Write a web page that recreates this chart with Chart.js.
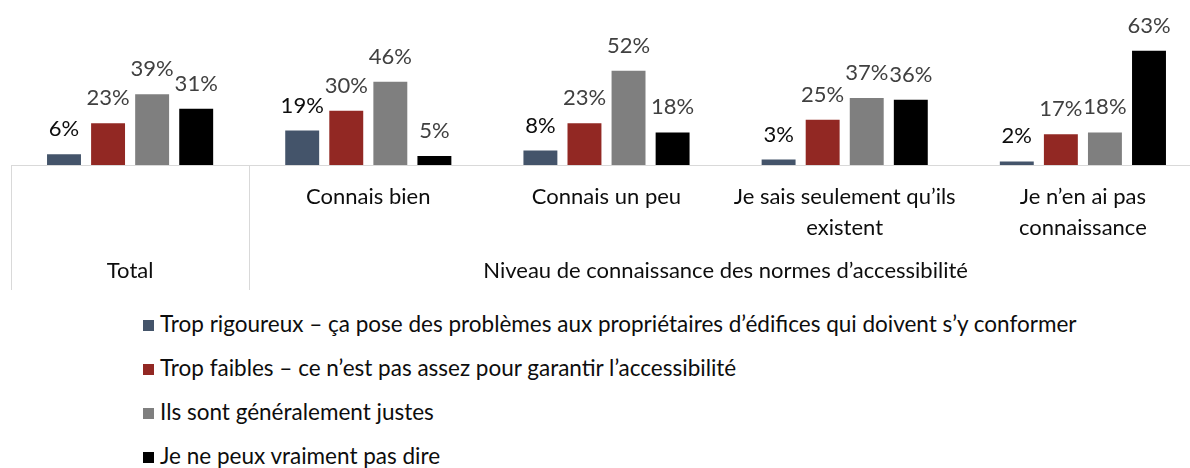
<!DOCTYPE html>
<html>
<head>
<meta charset="utf-8">
<script src="https://cdn.jsdelivr.net/npm/chart.js@4"></script>
<style>
  body { margin: 0; overflow: hidden; background: #fff; font-family: Lato, sans-serif; }
  #wrap { position: relative; width: 1202px; height: 300px; }
  #legend { position: absolute; left: 143px; top: 309px; }
  .item { height: 44px; line-height: 30px; font-size: 22.5px; color: #0d0d0d; white-space: nowrap; }
  .box { display: inline-block; width: 11px; height: 11px; margin-right: 6px; vertical-align: 1px; }
</style>
</head>
<body>
<div id="wrap"><canvas id="myChart" width="1202" height="300"></canvas></div>
<div id="legend"></div>
<script>
// categories (first level) and groups (second level)
const labels = ['', 'Connais bien', 'Connais un peu', ['Je sais seulement qu’ils', 'existent'], ['Je n’en ai pas', 'connaissance']];
const groups = ['Total', 'Niveau de connaissance des normes d’accessibilité'];
const groupSpans = [[0, 0], [1, 4]];

// series
const seriesNames = [
  'Trop rigoureux – ça pose des problèmes aux propriétaires d’édifices qui doivent s’y conformer',
  'Trop faibles – ce n’est pas assez pour garantir l’accessibilité',
  'Ils sont généralement justes',
  'Je ne peux vraiment pas dire'
];
const tropRigoureux = [6, 19, 8, 3, 2];
const tropFaibles = [23, 30, 23, 25, 17];
const justes = [39, 46, 52, 37, 18];
const nePeuxPasDire = [31, 5, 18, 36, 63];

const COLORS = ['#44546a', '#922823', '#7f7f7f', '#000000'];
const LABEL_COLORS = ['#0d0d0d', '#404040', '#404040', '#404040'];

const allSeries = [tropRigoureux, tropFaibles, justes, nePeuxPasDire];

const data = {
  labels: labels,
  datasets: allSeries.map((vals, i) => ({
    label: seriesNames[i],
    data: vals,
    backgroundColor: COLORS[i],
    categoryPercentage: 0.74,
    barPercentage: 0.77
  }))
};

// value labels above the bars + the second level of the category axis
const extras = {
  id: 'extras',
  afterDatasetsDraw(chart) {
    const ctx = chart.ctx;
    ctx.save();
    ctx.font = '22px Lato';
    ctx.textAlign = 'center';
    ctx.textBaseline = 'alphabetic';
    chart.data.datasets.forEach((ds, i) => {
      chart.getDatasetMeta(i).data.forEach((bar, j) => {
        ctx.fillStyle = LABEL_COLORS[i];
        ctx.fillText(ds.data[j] + '%', bar.x, bar.y - 18);
      });
    });
    ctx.restore();
  },
  afterDraw(chart) {
    const ctx = chart.ctx;
    const x = chart.scales.x;
    const base = chart.chartArea.bottom;
    ctx.save();
    ctx.strokeStyle = '#d9d9d9';
    ctx.lineWidth = 1;
    const sep = [x.left, (x.getPixelForValue(0) + x.getPixelForValue(1)) / 2, x.right];
    sep.forEach(px => {
      ctx.beginPath();
      ctx.moveTo(Math.round(px) + 0.5, base);
      ctx.lineTo(Math.round(px) + 0.5, 290);
      ctx.stroke();
    });
    ctx.font = '22px Lato';
    ctx.fillStyle = '#0d0d0d';
    ctx.textAlign = 'center';
    ctx.textBaseline = 'middle';
    groups.forEach((g, k) => {
      const a = x.getPixelForValue(groupSpans[k][0]);
      const b = x.getPixelForValue(groupSpans[k][1]);
      ctx.fillText(g, (a + b) / 2, 271);
    });
    ctx.restore();
  }
};

const config = {
  type: 'bar',
  data: data,
  options: {
    responsive: false,
    animation: false,
    layout: { padding: { left: 11, right: 0, top: 20, bottom: 0 } },
    plugins: {
      legend: { display: false },
      tooltip: { enabled: false }
    },
    scales: {
      x: {
        grid: { display: false, drawTicks: false },
        border: { color: '#d9d9d9', width: 1 },
        ticks: { color: '#0d0d0d', font: { family: 'Lato', size: 22, lineHeight: '31px' }, padding: 16, maxRotation: 0, autoSkip: false },
        afterFit(scale) { scale.height = 135; }
      },
      y: {
        display: false,
        min: 0,
        max: 80
      }
    }
  },
  plugins: [extras]
};

const myChart = new Chart(document.getElementById('myChart'), config);

// legend, one item per row
const legend = document.getElementById('legend');
seriesNames.forEach((name, i) => {
  const row = document.createElement('div');
  row.className = 'item';
  row.innerHTML = '<span class="box" style="background:' + COLORS[i] + '"></span>' + name;
  legend.appendChild(row);
});
</script>
</body>
</html>
